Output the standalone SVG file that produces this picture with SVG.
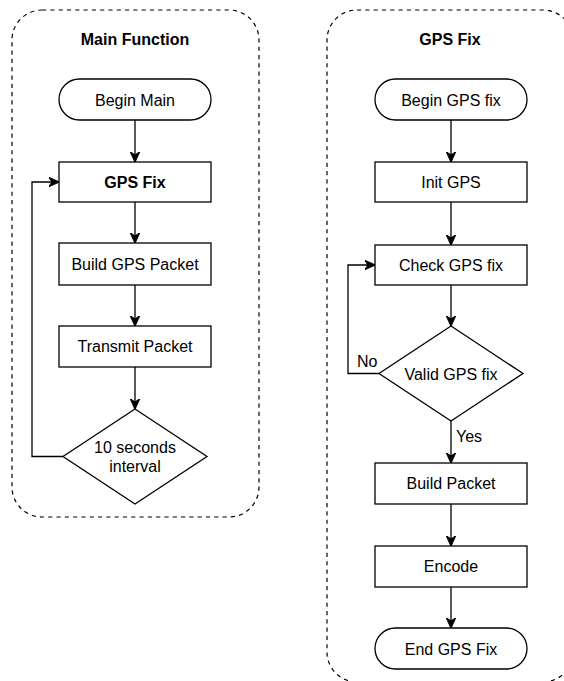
<svg xmlns="http://www.w3.org/2000/svg" width="564" height="681" viewBox="0 0 564 681">
  <style>
    .frame { fill: none; stroke: #000; stroke-width: 1.2; stroke-dasharray: 4.2 4.1; }
    .shape { fill: #fff; stroke: #000; stroke-width: 1.3; }
    .label { font-family: "Liberation Sans", Arial, sans-serif; font-size: 16px; fill: #000; text-anchor: middle; }
    .title { font-weight: bold; }
    .edge { fill: none; stroke: #000; stroke-width: 1.3; marker-end: url(#arrow); }
    .note { font-family: "Liberation Sans", Arial, sans-serif; font-size: 16px; fill: #000; }
  </style>
  <defs>
    <marker id="arrow" viewBox="0 0 10 10" refX="9.5" refY="5" markerWidth="11" markerHeight="11" markerUnits="userSpaceOnUse" orient="auto">
      <path d="M0,0.5 L10,5 L0,9.5 L3,5 Z" fill="#000" stroke="#000" stroke-width="0.8" stroke-linejoin="miter"/>
    </marker>
  </defs>

  <rect width="564" height="681" fill="#fff"/>

  <!-- Containers -->
  <g id="main-function">
    <rect class="frame" x="12" y="10" width="247" height="507" rx="30" ry="30"/>
    <text class="label title" x="135" y="44.5">Main Function</text>
  </g>
  <g id="gps-fix-group">
    <rect class="frame" x="327" y="10" width="246" height="672" rx="30" ry="30"/>
    <text class="label title" x="450" y="44.5">GPS Fix</text>
  </g>

  <!-- Connectors -->
  <g id="connectors">
    <path class="edge" d="M135,120 L135,162"/>
    <path class="edge" d="M135,202 L135,243"/>
    <path class="edge" d="M135,285 L135,326"/>
    <path class="edge" d="M135,367 L135,409"/>
    <path class="edge" d="M63,456.5 L32,456.5 L32,182 L59,182"/>

    <path class="edge" d="M451,120 L451,162"/>
    <path class="edge" d="M451,202 L451,245"/>
    <path class="edge" d="M451,285 L451,326"/>
    <path class="edge" d="M379,373.5 L348,373.5 L348,265 L375,265"/>
    <path class="edge" d="M451,421 L451,463"/>
    <path class="edge" d="M451,504 L451,546"/>
    <path class="edge" d="M451,587 L451,628"/>
    <text class="note" x="357" y="367">No</text>
    <text class="note" x="456" y="441.5">Yes</text>
  </g>

  <!-- Main function nodes -->
  <g id="begin-main">
    <rect class="shape" x="59" y="79" width="152" height="41" rx="20.5" ry="20.5"/>
    <text class="label" x="135" y="105.5">Begin Main</text>
  </g>
  <g id="gps-fix-call">
    <rect class="shape" x="59" y="162" width="152" height="40"/>
    <text class="label title" x="135" y="187.5">GPS Fix</text>
  </g>
  <g id="build-gps-packet">
    <rect class="shape" x="59" y="243" width="152" height="42"/>
    <text class="label" x="135" y="269.5">Build GPS Packet</text>
  </g>
  <g id="transmit-packet">
    <rect class="shape" x="59" y="326" width="152" height="41"/>
    <text class="label" x="135" y="352">Transmit Packet</text>
  </g>
  <g id="ten-second-interval">
    <polygon class="shape" points="135,409 207,456.5 135,504 63,456.5"/>
    <text class="label" x="135" y="453">10 seconds</text>
    <text class="label" x="135" y="471.5">interval</text>
  </g>

  <!-- GPS fix nodes -->
  <g id="begin-gps-fix">
    <rect class="shape" x="375" y="79" width="152" height="41" rx="20.5" ry="20.5"/>
    <text class="label" x="451" y="105.5">Begin GPS fix</text>
  </g>
  <g id="init-gps">
    <rect class="shape" x="375" y="162" width="152" height="40"/>
    <text class="label" x="451" y="187.5">Init GPS</text>
  </g>
  <g id="check-gps-fix">
    <rect class="shape" x="375" y="245" width="152" height="40"/>
    <text class="label" x="451" y="270.5">Check GPS fix</text>
  </g>
  <g id="valid-gps-fix">
    <polygon class="shape" points="451,326 523,373.5 451,421 379,373.5"/>
    <text class="label" x="451" y="380">Valid GPS fix</text>
  </g>
  <g id="build-packet">
    <rect class="shape" x="375" y="463" width="152" height="41"/>
    <text class="label" x="451" y="489">Build Packet</text>
  </g>
  <g id="encode">
    <rect class="shape" x="375" y="546" width="152" height="41"/>
    <text class="label" x="451" y="572">Encode</text>
  </g>
  <g id="end-gps-fix">
    <rect class="shape" x="375" y="628" width="152" height="41" rx="20.5" ry="20.5"/>
    <text class="label" x="451" y="654.5">End GPS Fix</text>
  </g>
</svg>
